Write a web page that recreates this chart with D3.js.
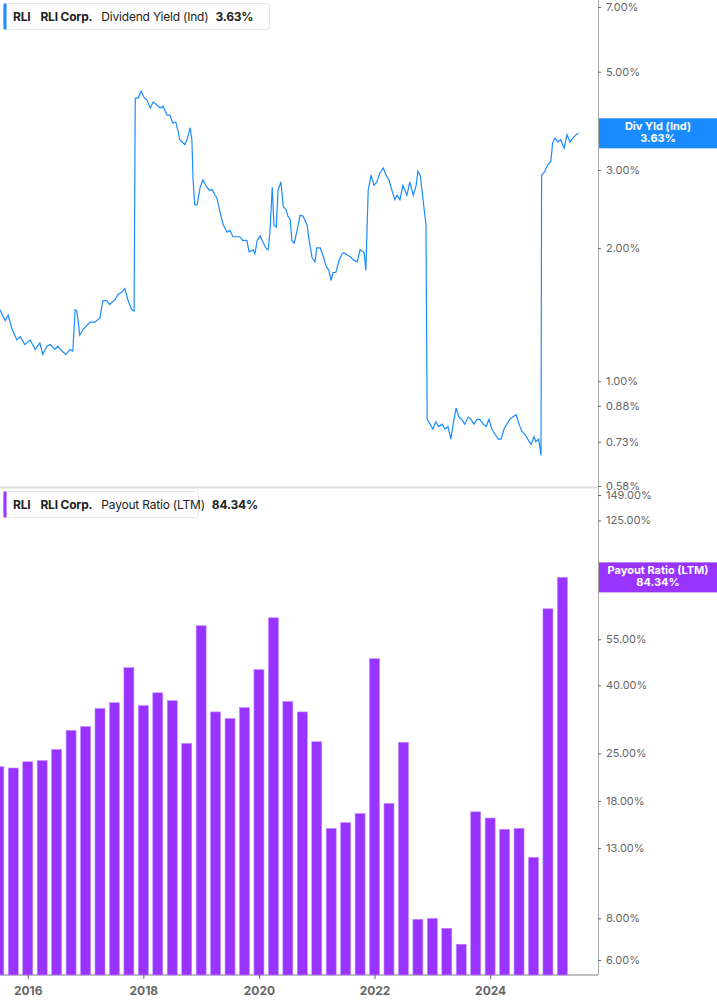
<!DOCTYPE html>
<html><head><meta charset="utf-8">
<script src="https://cdn.jsdelivr.net/npm/d3@7"></script>
<style>body{margin:0;background:#fff;font-family:Inter,"Noto Sans",sans-serif}</style>
</head><body><svg id="c" width="717" height="1005"></svg>
<script>
const divYield = [
[2015.52,1.45],[2015.61,1.37],[2015.66,1.41],[2015.73,1.31],[2015.81,1.24],[2015.87,1.26],[2015.95,1.21],[2016.04,1.24],[2016.13,1.18],[2016.21,1.22],[2016.26,1.15],[2016.33,1.20],[2016.39,1.21],[2016.47,1.18],[2016.52,1.20],[2016.59,1.17],[2016.66,1.15],[2016.73,1.18],[2016.78,1.17],[2016.82,1.45],[2016.85,1.44],[2016.90,1.27],[2016.96,1.31],[2017.03,1.34],[2017.08,1.36],[2017.16,1.36],[2017.25,1.39],[2017.30,1.52],[2017.37,1.52],[2017.42,1.49],[2017.51,1.53],[2017.56,1.57],[2017.63,1.59],[2017.68,1.62],[2017.73,1.53],[2017.80,1.45],[2017.84,1.44],
[2017.86,4.36],[2017.91,4.36],[2017.96,4.52],[2018.01,4.38],[2018.06,4.32],[2018.12,4.14],[2018.17,4.27],[2018.22,4.22],[2018.29,4.14],[2018.34,4.18],[2018.41,3.99],[2018.46,3.99],[2018.51,3.83],[2018.56,3.85],[2018.60,3.67],[2018.63,3.51],[2018.67,3.47],[2018.72,3.42],[2018.77,3.56],[2018.81,3.74],[2018.84,3.51],[2018.86,2.85],[2018.89,2.50],[2018.93,2.50],[2018.98,2.73],[2019.03,2.85],[2019.08,2.77],[2019.14,2.70],[2019.19,2.71],[2019.24,2.63],[2019.27,2.60],[2019.33,2.40],[2019.38,2.26],[2019.45,2.17],[2019.50,2.19],[2019.55,2.12],[2019.62,2.12],[2019.67,2.12],[2019.72,2.08],[2019.79,2.08],[2019.83,1.96],[2019.90,1.98],[2019.93,1.94],[2019.97,2.08],[2020.02,2.13],[2020.07,2.06],[2020.12,2.00],[2020.16,1.98],[2020.19,2.17],[2020.23,2.74],[2020.26,2.25],[2020.30,2.23],[2020.33,2.70],[2020.38,2.82],[2020.42,2.48],[2020.47,2.44],[2020.50,2.36],[2020.54,2.32],[2020.57,2.08],[2020.61,2.05],[2020.66,2.19],[2020.71,2.37],[2020.76,2.36],[2020.83,2.26],[2020.87,2.08],[2020.92,1.90],[2020.97,1.86],[2021.00,2.00],[2021.06,2.00],[2021.11,1.92],[2021.16,1.82],[2021.21,1.78],[2021.25,1.69],[2021.28,1.76],[2021.33,1.76],[2021.39,1.88],[2021.44,1.94],[2021.47,1.95],[2021.52,1.93],[2021.58,1.91],[2021.63,1.88],[2021.70,1.86],[2021.75,1.98],[2021.82,1.95],[2021.85,1.78],
[2021.89,2.70],[2021.94,2.92],[2021.99,2.77],[2022.04,2.82],[2022.09,2.95],[2022.15,3.03],[2022.20,2.92],[2022.25,2.85],[2022.30,2.70],[2022.35,2.57],[2022.39,2.63],[2022.44,2.57],[2022.49,2.77],[2022.56,2.63],[2022.61,2.82],[2022.67,2.63],[2022.72,2.77],[2022.75,2.98],[2022.79,2.92],[2022.84,2.57],[2022.87,2.37],[2022.89,2.25],
[2022.91,0.82],[2022.96,0.80],[2023.01,0.78],[2023.06,0.81],[2023.11,0.79],[2023.17,0.80],[2023.22,0.78],[2023.27,0.79],[2023.32,0.74],[2023.36,0.80],[2023.41,0.87],[2023.46,0.83],[2023.51,0.82],[2023.56,0.80],[2023.62,0.83],[2023.67,0.82],[2023.72,0.80],[2023.77,0.82],[2023.82,0.82],[2023.88,0.80],[2023.93,0.79],[2023.98,0.82],[2024.03,0.78],[2024.08,0.76],[2024.14,0.74],[2024.19,0.74],[2024.24,0.78],[2024.29,0.80],[2024.34,0.82],[2024.39,0.83],[2024.45,0.84],[2024.50,0.80],[2024.55,0.77],[2024.60,0.76],[2024.65,0.74],[2024.71,0.72],[2024.76,0.75],[2024.79,0.73],[2024.84,0.74],[2024.88,0.68],
[2024.89,2.92],[2024.94,2.97],[2025.00,3.09],[2025.05,3.13],[2025.08,3.45],[2025.12,3.54],[2025.17,3.47],[2025.22,3.51],[2025.28,3.36],[2025.33,3.60],[2025.38,3.47],[2025.43,3.54],[2025.48,3.60],[2025.53,3.63]];
const quarters = [2015.5,2015.75,2016,2016.25,2016.5,2016.75,2017,2017.25,2017.5,2017.75,2018,2018.25,2018.5,2018.75,2019,2019.25,2019.5,2019.75,2020,2020.25,2020.5,2020.75,2021,2021.25,2021.5,2021.75,2022,2022.25,2022.5,2022.75,2023,2023.25,2023.5,2023.75,2024,2024.25,2024.5,2024.75,2025,2025.25];
const payout = [22.8,22.6,23.6,23.8,25.7,29.3,30.1,34.1,35.5,45.2,34.8,38.0,36.0,26.8,60.4,33.3,31.8,34.3,44.6,63.8,35.8,33.3,27.1,14.9,15.5,16.5,48.1,17.7,27.0,7.95,8.0,7.47,6.69,16.7,16.0,14.8,14.9,12.2,67.9,84.34];
const yieldTicks = [7,5,3,2,1,0.88,0.73,0.58];
const payoutTicks = [149,125,55,40,25,18,13,8,6];
const yearTicks = [2016,2018,2020,2022,2024];

const svg = d3.select('#c');
const axisX = 598;
const x = d3.scaleLinear().domain([2015.52, 2015.52 + axisX/57.8]).range([0, axisX]);
const y1 = d3.scaleLog().domain([0.58, 7]).range([486, 7]);
const y2 = d3.scaleLog().domain([6, 149]).range([960, 495]);
const grey = '#666';

svg.append('line').attr('x1',0).attr('x2',axisX).attr('y1',487.5).attr('y2',487.5).attr('stroke','#ddd').attr('stroke-width',2);
svg.append('line').attr('x1',axisX+0.5).attr('x2',axisX+0.5).attr('y1',0).attr('y2',975).attr('stroke','#aaa');
svg.append('line').attr('x1',0).attr('x2',axisX).attr('y1',975).attr('y2',975).attr('stroke','#aaa').attr('stroke-width',1.5);

svg.append('g').selectAll('rect').data(quarters).join('rect')
  .attr('x', d => x(d) - 5).attr('width', 10)
  .attr('y', (d,i) => y2(payout[i])).attr('height', (d,i) => 975 - y2(payout[i]))
  .attr('fill', '#9933ff').attr('stroke','#c28dff').attr('stroke-width',0.6);

svg.append('path').datum(divYield)
  .attr('d', d3.line().x(d => x(d[0])).y(d => y1(d[1])))
  .attr('fill','none').attr('stroke','#1a8cff').attr('stroke-width',1.2);

const ax1 = svg.append('g').attr('transform',`translate(${axisX},0)`)
  .call(d3.axisRight(y1).tickValues(yieldTicks).tickFormat(d => d.toFixed(2)+'%').tickSize(3));
const ax2 = svg.append('g').attr('transform',`translate(${axisX},0)`)
  .call(d3.axisRight(y2).tickValues(payoutTicks).tickFormat(d => d.toFixed(2)+'%').tickSize(3));
[ax1,ax2].forEach(a => {
  a.select('.domain').remove();
  a.selectAll('line').attr('stroke', grey);
  a.selectAll('text').attr('fill', grey).attr('font-size', 11).attr('font-family','Inter, sans-serif').attr('x', 8);
});

const axB = svg.append('g').attr('transform','translate(0,975)')
  .call(d3.axisBottom(x).tickValues(yearTicks).tickFormat(d3.format('d')).tickSize(4));
axB.select('.domain').remove();
axB.selectAll('line').attr('stroke', grey);
axB.selectAll('text').attr('fill', grey).attr('font-size', 12).attr('font-weight','bold').attr('font-family','Inter, sans-serif').attr('dy','1.1em');

function tag(y, col, l1, l2) {
  svg.append('rect').attr('x', axisX+1).attr('y', y).attr('width', 717-axisX).attr('height', 30).attr('fill', col);
  svg.append('text').attr('x', 658).attr('y', y+12).attr('text-anchor','middle').attr('fill','#fff').attr('font-size',11).attr('font-weight','bold').text(l1);
  svg.append('text').attr('x', 658).attr('y', y+24).attr('text-anchor','middle').attr('fill','#fff').attr('font-size',11).attr('font-weight','bold').text(l2);
}
tag(y1(3.63)-15, '#1a8cff', 'Div Yld (Ind)', '3.63%');
tag(y2(84.34)-15, '#9933ff', 'Payout Ratio (LTM)', '84.34%');

function legend(y, w, col, label, val) {
  const g = svg.append('g').attr('transform', `translate(3,${y})`);
  g.append('rect').attr('x',0.5).attr('y',0.5).attr('width',w).attr('height',26).attr('rx',3).attr('fill','#fff').attr('stroke','#e6e6e6');
  g.append('rect').attr('x',0.5).attr('y',0.5).attr('width',3).attr('height',26).attr('fill',col);
  const t = g.append('text').attr('x',10).attr('y',18).attr('font-size',12).attr('fill','#222').attr('letter-spacing','-0.2');
  t.append('tspan').attr('font-weight','bold').text('RLI');
  t.append('tspan').attr('dx',10).attr('font-weight','bold').text('RLI Corp.');
  t.append('tspan').attr('dx',9).text(label);
  t.append('tspan').attr('dx',7).attr('font-weight','bold').text(val);
}
legend(3, 266, '#1a8cff', 'Dividend Yield (Ind)', '3.63%');
legend(491, 195, '#9933ff', 'Payout Ratio (LTM)', '84.34%');
</script></body></html>
